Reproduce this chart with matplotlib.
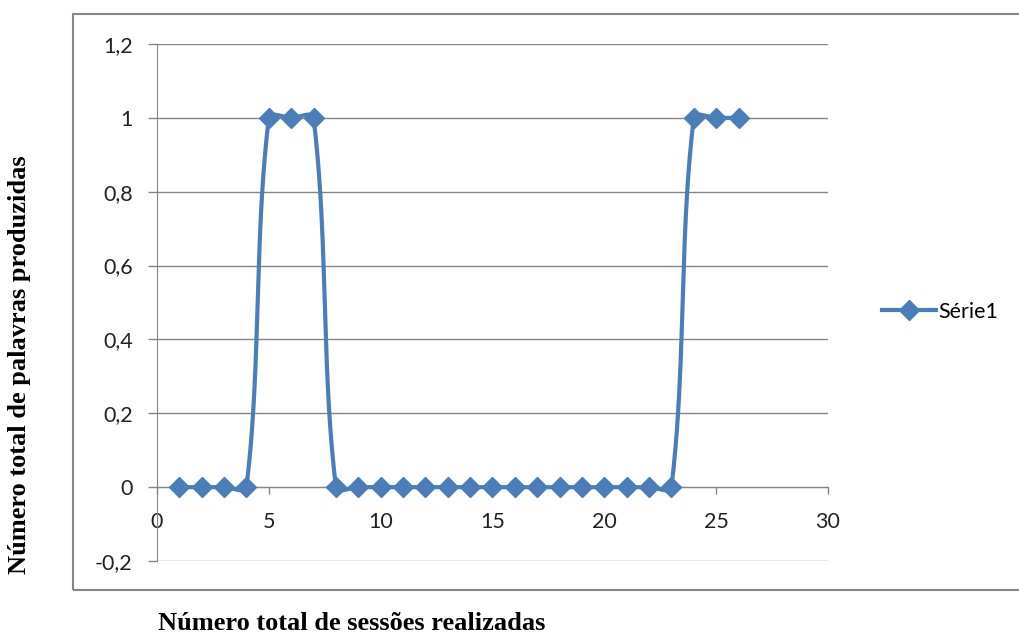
import matplotlib
matplotlib.use("Agg")
import matplotlib.pyplot as plt
from matplotlib.patches import Rectangle
import numpy as np

# dados do gráfico
sessoes = list(range(1, 27))
palavras = [0, 0, 0, 0, 1, 1, 1, 0, 0, 0, 0, 0, 0, 0, 0, 0, 0, 0, 0, 0, 0, 0, 0, 1, 1, 1]
y_ticks = [-0.2, 0, 0.2, 0.4, 0.6, 0.8, 1, 1.2]
y_labels = ["-0,2", "0", "0,2", "0,4", "0,6", "0,8", "1", "1,2"]
x_ticks = [0, 5, 10, 15, 20, 25, 30]

azul = "#4a7ebb"
cinza = "#868686"


def suavizar(ax, xs, ys, n=40):
    # curva suave estilo Excel: Bezier com tangente normalizada, em coordenadas de tela
    p = ax.transData.transform(np.column_stack([xs, ys]))
    p = np.vstack([p[0], p, p[-1]])
    out = []
    t = np.linspace(0, 1, n)[:, None]
    for i in range(1, len(p) - 2):
        p0, p1, p2, p3 = p[i - 1], p[i], p[i + 1], p[i + 2]
        seg_len = np.linalg.norm(p2 - p1)
        d1 = p2 - p0
        d2 = p3 - p1
        d1 = d1 / (np.linalg.norm(d1) or 1)
        d2 = d2 / (np.linalg.norm(d2) or 1)
        c1 = p1 + d1 * seg_len / 3
        c2 = p2 - d2 * seg_len / 3
        seg = ((1 - t) ** 3) * p1 + 3 * ((1 - t) ** 2) * t * c1 + 3 * (1 - t) * t ** 2 * c2 + t ** 3 * p2
        out.append(seg)
    out = np.vstack(out)
    return ax.transData.inverted().transform(out)


fig = plt.figure(figsize=(10.2, 6.35), dpi=100)
ax = fig.add_axes([157 / 1020, 1 - 561 / 635, 671 / 1020, 517 / 635])

# moldura da área do gráfico
fig.patches.append(Rectangle((73 / 1020, 1 - 590 / 635), 1.0, 576 / 635,
                             transform=fig.transFigure, fill=False,
                             edgecolor=cinza, linewidth=1.5))

ax.set_xlim(0, 30)
ax.set_ylim(-0.2, 1.2)
ax.set_yticks(y_ticks)
ax.set_yticklabels(y_labels)
ax.set_xticks(x_ticks)
ax.set_xticklabels([str(v) for v in x_ticks])
ax.grid(axis="y", color=cinza, linewidth=1)
ax.set_axisbelow(True)

for s in ["top", "right"]:
    ax.spines[s].set_visible(False)
ax.spines["bottom"].set_position(("data", 0))
ax.spines["bottom"].set_color(cinza)
ax.spines["left"].set_color(cinza)
ax.spines["bottom"].set_zorder(1)
ax.spines["left"].set_zorder(1)

ax.tick_params(axis="y", length=6.5, color=cinza, width=1, pad=11,
               labelsize=15.5, labelfontfamily="Lato", labelcolor="#222222")
ax.tick_params(axis="x", length=5, color=cinza, width=1, pad=13,
               labelsize=15.5, labelfontfamily="Lato", labelcolor="#222222")

curva = suavizar(ax, sessoes, palavras)
ax.plot(curva[:, 0], curva[:, 1], color=azul, linewidth=3, zorder=3, clip_on=False)
ax.plot(sessoes, palavras, linestyle="none", marker="D", markersize=10.5,
        color=azul, zorder=4, clip_on=False)

handle, = ax.plot([], [], color=azul, linewidth=3, marker="D", markersize=10.5)
fig.legend([handle], ["Série1"], loc="center left",
           bbox_to_anchor=(882 / 1020, 1 - 312 / 635), frameon=False,
           handlelength=2.5, handletextpad=0.1, borderaxespad=0, borderpad=0,
           prop={"family": "Lato", "size": 15.5})

fig.text(20 / 1020, 1 - 365 / 635, "Número total de palavras produzidas",
         rotation=90, ha="center", va="center", fontsize=19,
         fontweight="bold", family="Liberation Serif")
fig.text(352 / 1020, 1 - 624 / 635, "Número total de sessões realizadas",
         ha="center", va="center", fontsize=19,
         fontweight="bold", family="Liberation Serif")

fig.savefig("out.png", dpi=100)
